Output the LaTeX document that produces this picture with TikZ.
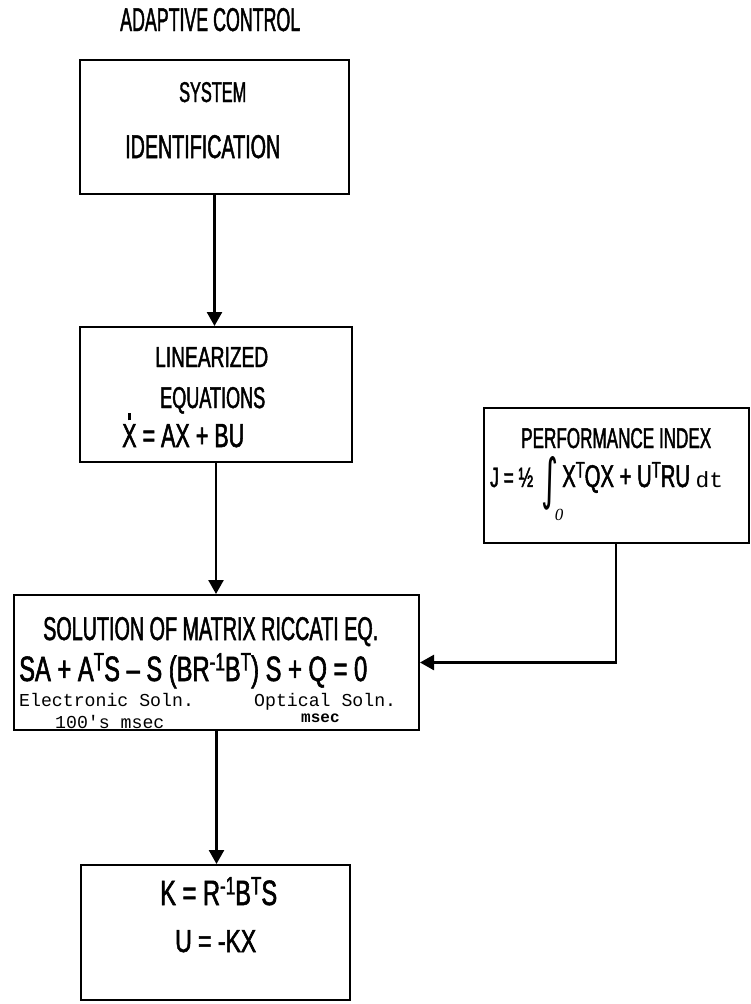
\documentclass[tikz,border=0pt]{standalone}
\usepackage{fontspec}
\usepackage{graphicx}
\usetikzlibrary{arrows.meta}
\newfontfamily\cond[FakeStretch=0.62,FakeBold=1.5]{Liberation Sans}
\newfontfamily\tw{Liberation Mono}
\newfontfamily\dv{DejaVu Sans}
\newfontfamily\lserif{Liberation Serif}
% width and height of caps text
\newcommand{\fitwh}[3]{\resizebox{#1}{#2}{\fontsize{20}{24}\selectfont\cond #3}}
\newcommand{\sups}[1]{\raisebox{0.3em}{\scalebox{0.72}{#1}}}
\newcommand{\Xdot}{\ooalign{X\cr\hidewidth\smash{\raisebox{0.8em}{\rule{0.08em}{0.22em}}}\hidewidth\cr}}
\tikzset{
  blk/.style={draw, line width=2pt, rectangle, inner sep=0pt},
  lbl/.style={inner sep=0pt, anchor=base west},
  mono/.style={inner sep=0pt, anchor=base west, font=\tw\fontsize{18.2}{20}\selectfont},
  con/.style={line width=2.5pt, -{Triangle[width=15pt,length=14pt]}},
}
\begin{document}
\begin{tikzpicture}[x=1pt,y=-1pt]
\useasboundingbox[fill=white] (0,0) rectangle (750,1004);

% boxes
\node[blk, minimum width=269pt, minimum height=134pt] (sys)  at (214.5,127) {};
\node[blk, minimum width=272pt, minimum height=135pt] (lin)  at (216,394.5) {};
\node[blk, minimum width=265pt, minimum height=135pt] (perf) at (616,475.5) {};
\node[blk, minimum width=405pt, minimum height=135pt] (sol)  at (216.5,662.5) {};
\node[blk, minimum width=269pt, minimum height=135pt] (kbox) at (215.5,932.5) {};

% texts
\node[lbl] (title) at (120,31) {\fitwh{180pt}{23pt}{ADAPTIVE CONTROL}};
\node[lbl] (t-sys1) at (179,102) {\fitwh{67pt}{20pt}{SYSTEM}};
\node[lbl] (t-sys2) at (125,158) {\fitwh{155pt}{23pt}{IDENTIFICATION}};

\node[lbl] (t-lin1) at (155,367) {\fitwh{113pt}{20pt}{LINEARIZED}};
\node[lbl] (t-lin2) at (160,408) {\fitwh{105pt}{21pt}{EQUATIONS}};
\node[lbl] (t-lin3) at (122,447) {\fitwh{122pt}{23pt}{\Xdot\ = AX + BU}};

\node[lbl] (t-perf1) at (521,448) {\fitwh{190pt}{20pt}{PERFORMANCE INDEX}};
\node[lbl] (t-perf2) at (490,487) {\fontsize{28}{30}\selectfont\cond J = ½};
\node[inner sep=0pt] (t-int) at (550,483) {\resizebox{17pt}{42pt}{\dv ∫}};
\node[inner sep=0pt] (t-int0) at (559,515) {\fontsize{17}{17}\selectfont\lserif\itshape 0};
\node[lbl] (t-perf3) at (562,487) {\fitwh{161pt}{25pt}{X\sups{T}QX + U\sups{T}RU {\tw\fontsize{14}{14}\selectfont dt}}};

\node[lbl] (t-sol1) at (43,640) {\fitwh{335pt}{23pt}{SOLUTION OF MATRIX RICCATI EQ.}};
\node[lbl] (t-sol2) at (19,681) {\fitwh{348pt}{28pt}{SA + A\sups{T}S – S (BR\sups{-1}B\sups{T}) S + Q = 0}};
\node[mono] (t-sol3) at (19,706) {Electronic Soln.};
\node[mono] (t-sol4) at (55,728) {100's msec};
\node[mono] (t-sol5) at (254,706) {Optical Soln.};
\node[mono, font=\tw\bfseries\fontsize{16}{18}\selectfont] (t-sol6) at (301,722) {msec};

\node[lbl] (t-k1) at (160,905) {\fitwh{117pt}{28pt}{K = R\sups{-1}B\sups{T}S}};
\node[lbl] (t-k2) at (175,952) {\fitwh{81pt}{22pt}{U = -KX}};

% connectors
\draw[con] (sys.south) -- (sys.south |- lin.north);
\draw[con] (lin.south) -- (lin.south |- sol.north);
\draw[con] (sol.south) -- (sol.south |- kbox.north);
\draw[con] (perf.south) |- (sol.east);
\end{tikzpicture}
\end{document}
